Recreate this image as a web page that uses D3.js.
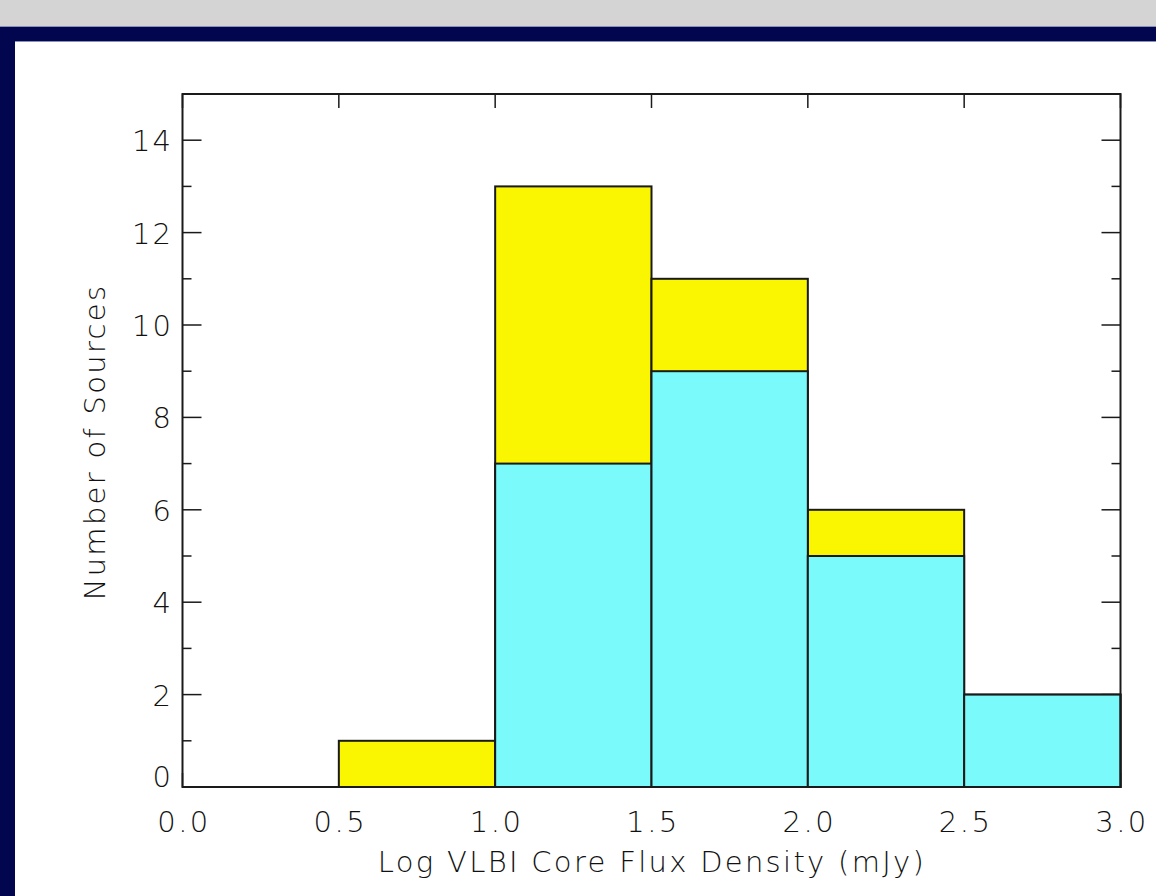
<!DOCTYPE html>
<html>
<head>
<meta charset="utf-8">
<script src="https://cdn.jsdelivr.net/npm/d3@7"></script>
<style>
  body { margin: 0; background: #fff; }
  svg { display: block; }
  text { font-family: "DejaVu Sans", sans-serif; font-weight: 200; fill: #111; }
</style>
</head>
<body>
<svg id="chart"></svg>
<script>
// histogram bins (Log VLBI core flux density, mJy)
var binStart = [0.0, 0.5, 1.0, 1.5, 2.0, 2.5];
var binEnd   = [0.5, 1.0, 1.5, 2.0, 2.5, 3.0];
var totalCounts = [0, 1, 13, 11, 6, 2];   // yellow outline (all sources)
var cyanCounts  = [0, 0, 7, 9, 5, 2];     // cyan subset
var xTicks = [0.0, 0.5, 1.0, 1.5, 2.0, 2.5, 3.0];
var yTicks = [0, 2, 4, 6, 8, 10, 12, 14];
var yMinor = [1, 3, 5, 7, 9, 11, 13];

var W = 1156, H = 896;
var svg = d3.select("#chart").attr("width", W).attr("height", H);

// window frame
svg.append("rect").attr("x", 0).attr("y", 0).attr("width", W).attr("height", 27).attr("fill", "#d4d4d4");
svg.append("rect").attr("x", 0).attr("y", 27).attr("width", W).attr("height", 15).attr("fill", "#02064f");
svg.append("rect").attr("x", 0).attr("y", 27).attr("width", 15).attr("height", H - 27).attr("fill", "#02064f");
svg.append("line").attr("x1", 0).attr("x2", W).attr("y1", 26.5).attr("y2", 26.5).attr("stroke", "#8890b8");
svg.append("line").attr("x1", 15).attr("x2", W).attr("y1", 41.5).attr("y2", 41.5).attr("stroke", "#8890b8");

var x = d3.scaleLinear().domain([0, 3]).range([182.5, 1120.5]);
var y = d3.scaleLinear().domain([0, 15]).range([787, 94]);

var g = svg.append("g");
var stroke = "#1a1a1a";

// ticks (drawn first, bars cover them like the original)
var ticks = g.append("g").attr("stroke", stroke).attr("stroke-width", 1.5);
xTicks.forEach(function(v) {
  ticks.append("line").attr("x1", x(v)).attr("x2", x(v)).attr("y1", y(15)).attr("y2", y(15) + 14);
  ticks.append("line").attr("x1", x(v)).attr("x2", x(v)).attr("y1", y(0)).attr("y2", y(0) - 14);
});
yTicks.forEach(function(v) {
  ticks.append("line").attr("x1", x(0)).attr("x2", x(0) + 19).attr("y1", y(v)).attr("y2", y(v));
  ticks.append("line").attr("x1", x(3)).attr("x2", x(3) - 19).attr("y1", y(v)).attr("y2", y(v));
});
yMinor.forEach(function(v) {
  ticks.append("line").attr("x1", x(0)).attr("x2", x(0) + 9).attr("y1", y(v)).attr("y2", y(v));
  ticks.append("line").attr("x1", x(3)).attr("x2", x(3) - 9).attr("y1", y(v)).attr("y2", y(v));
});

// total histogram (yellow)
g.selectAll("rect.total")
  .data(totalCounts)
  .enter()
  .append("rect")
  .attr("class", "total")
  .attr("x", function(d, i) { return x(binStart[i]); })
  .attr("width", function(d, i) { return x(binEnd[i]) - x(binStart[i]); })
  .attr("y", function(d) { return y(d); })
  .attr("height", function(d) { return y(0) - y(d); })
  .attr("fill", "#faf500")
  .attr("stroke", stroke)
  .attr("stroke-width", 2);

// subset histogram (cyan)
g.selectAll("rect.sub")
  .data(cyanCounts)
  .enter()
  .append("rect")
  .attr("class", "sub")
  .attr("x", function(d, i) { return x(binStart[i]); })
  .attr("width", function(d, i) { return x(binEnd[i]) - x(binStart[i]); })
  .attr("y", function(d) { return y(d); })
  .attr("height", function(d) { return y(0) - y(d); })
  .attr("fill", "#7afafa")
  .attr("stroke", stroke)
  .attr("stroke-width", 2)
  .style("display", function(d) { return d > 0 ? null : "none"; });

// plot frame
g.append("rect")
  .attr("x", x(0)).attr("y", y(15))
  .attr("width", x(3) - x(0)).attr("height", y(0) - y(15))
  .attr("fill", "none").attr("stroke", stroke).attr("stroke-width", 2);

// tick labels
g.selectAll("text.xl")
  .data(xTicks)
  .enter()
  .append("text")
  .attr("x", function(d) { return x(d) + 1.5; })
  .attr("y", 832)
  .attr("text-anchor", "middle")
  .style("font-size", "29px")
  .style("letter-spacing", "2.5px")
  .text(function(d) { return d3.format(".1f")(d); });

g.selectAll("text.yl")
  .data(yTicks)
  .enter()
  .append("text")
  .attr("x", 173)
  .attr("y", function(d) { return d === 0 ? y(d) : y(d) + 11; })
  .attr("text-anchor", "end")
  .style("font-size", "29px")
  .style("letter-spacing", "2px")
  .text(function(d) { return d; });

// axis titles
g.append("text")
  .attr("x", 652)
  .attr("y", 872)
  .attr("text-anchor", "middle")
  .style("font-size", "29px")
  .style("letter-spacing", "2.3px")
  .text("Log VLBI Core Flux Density (mJy)");

g.append("text")
  .attr("transform", "translate(105,442) rotate(-90)")
  .attr("text-anchor", "middle")
  .style("font-size", "29px")
  .style("letter-spacing", "2.3px")
  .text("Number of Sources");
</script>
</body>
</html>
